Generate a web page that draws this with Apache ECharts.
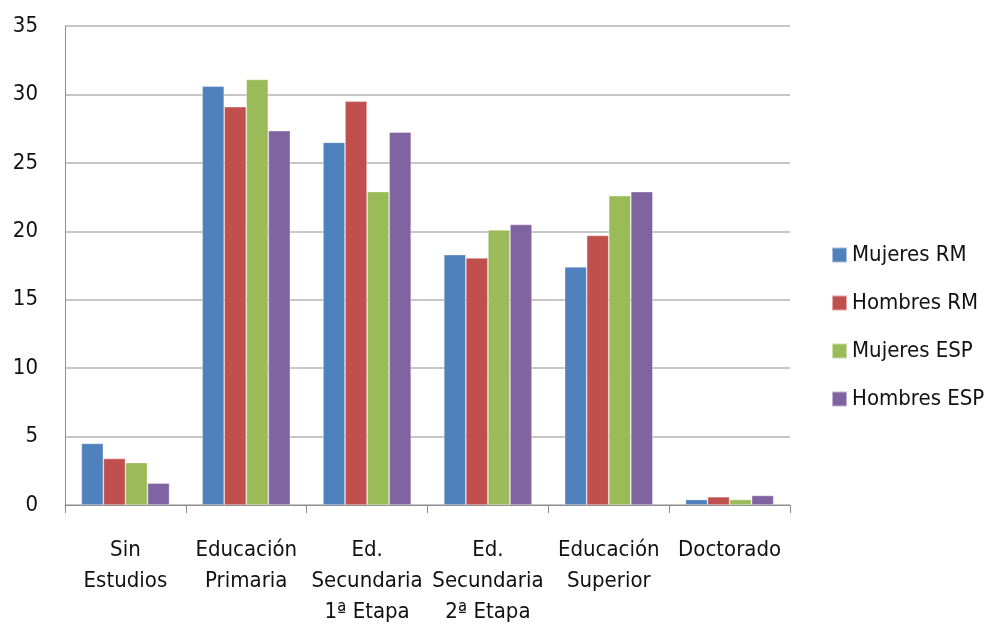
<!DOCTYPE html>
<html><head><meta charset="utf-8">
<script src="https://cdn.jsdelivr.net/npm/echarts@6/dist/echarts.min.js"></script>
<style>html,body{margin:0;padding:0;background:#fff}#c{width:999px;height:628px}</style>
</head><body><div id="c"></div>
<script>
const categories = ['Sin\nEstudios','Educación\nPrimaria','Ed.\nSecundaria\n1ª Etapa','Ed.\nSecundaria\n2ª Etapa','Educación\nSuperior','Doctorado'];
const seriesNames = ['Mujeres RM','Hombres RM','Mujeres ESP','Hombres ESP'];
const mujeresRM = [4.5, 30.6, 26.5, 18.3, 17.4, 0.4];
const hombresRM = [3.4, 29.1, 29.5, 18.05, 19.7, 0.6];
const mujeresESP = [3.1, 31.1, 22.9, 20.1, 22.6, 0.4];
const hombresESP = [1.6, 27.35, 27.25, 20.5, 22.9, 0.7];
const colors = ['#4F81BD','#C0504D','#9BBB59','#8064A2'];
const FONT = '"DejaVu Sans Condensed", "DejaVu Sans", sans-serif';
const chart = echarts.init(document.getElementById('c'));
const data = [mujeresRM, hombresRM, mujeresESP, hombresESP];
chart.setOption({
  animation:false,
  color: colors,
  textStyle:{fontFamily:FONT},
  grid:{left:65, right:209, top:26, bottom:120, containLabel:false},
  legend:{
    orient:'vertical', left:826, top:239, itemWidth:15, itemHeight:15, itemGap:26,
    icon:'rect',
    textStyle:{fontSize:22, color:'#111', fontFamily:FONT, padding:[0,0,0,0]},
    data: seriesNames
  },
  xAxis:{
    type:'category', data:categories,
    axisLine:{lineStyle:{color:'#8c8c8c', width:1}},
    axisTick:{show:true, length:8, lineStyle:{color:'#8c8c8c'}},
    axisLabel:{interval:0, fontSize:22, color:'#111', lineHeight:31, margin:30, fontFamily:FONT}
  },
  yAxis:{
    type:'value', min:0, max:35, interval:5,
    axisLine:{show:true, lineStyle:{color:'#8c8c8c'}},
    axisTick:{show:false},
    splitLine:{lineStyle:{color:'#b3b3b3', width:1.5}},
    axisLabel:{fontSize:22, color:'#111', margin:27, fontFamily:FONT}
  },
  series: seriesNames.map((n,i)=>({
    name:n, type:'bar', data:data[i], barGap:'0%', barCategoryGap:'27%',
    itemStyle:{color:colors[i], borderColor:'rgba(255,255,255,0.5)', borderWidth:0.7}
  }))
});
</script></body></html>
